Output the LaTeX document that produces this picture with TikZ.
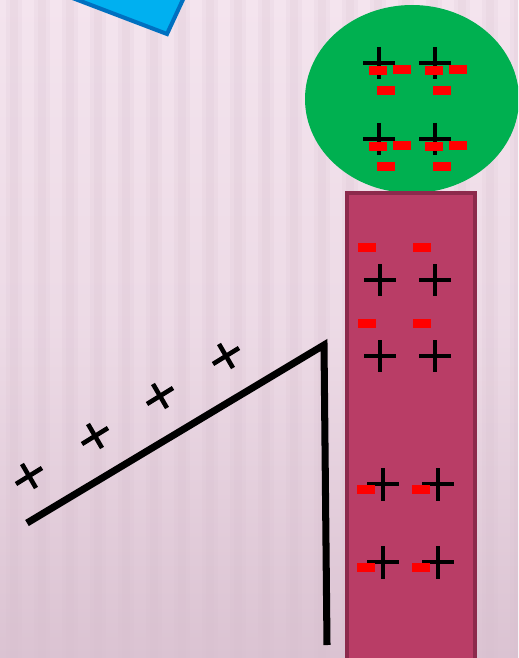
\documentclass[tikz,border=0pt]{standalone}
\definecolor{bgtop}{HTML}{F4E4EE}
\definecolor{bgbot}{HTML}{DBC3D2}
\definecolor{stripe}{HTML}{D6BECD}
\definecolor{skyfill}{HTML}{00B0F0}
\definecolor{skyline}{HTML}{0070C0}
\definecolor{ballgreen}{HTML}{00B050}
\definecolor{rodfill}{HTML}{B93D66}
\definecolor{rodline}{HTML}{8C2A4C}
\definecolor{minusred}{HTML}{FF0000}
\tikzset{
  pluscharge/.style={line width=2.8pt,black},
  minusbar/.style={fill=minusred},
  wire/.style={line width=4pt,black,line join=miter},
  tiltplus/.style={line width=2.6pt,black}
}
\begin{document}
\begin{tikzpicture}[x=0.02cm,y=-0.02cm]
  \useasboundingbox (0,0) rectangle (518,658);
  \clip (0,0) rectangle (518,658);
  % background
  \shade[top color=bgtop,bottom color=bgbot,middle color=bgtop!70!bgbot] (0,0) rectangle (518,658);
  \foreach \x in {14,42,...,518} {
    \fill[stripe,opacity=0.15] (\x-8,0) rectangle (\x+8,658);
    \fill[stripe,opacity=0.15] (\x-4,0) rectangle (\x+4,658);
  }

  % blue plate (corner only)
  \draw[fill=skyfill,draw=skyline,line width=2.3pt,line join=miter]
    (20,-22) -- (167,34) -- (192,-20) -- cycle;

  % green sphere with charges
  \fill[ballgreen] (412,99) ellipse (107 and 94);
  \foreach \y in {0,76} {
    \foreach \x in {0,56} {
      \draw[pluscharge] (363+\x,63+\y) -- (395+\x,63+\y);
      \draw[pluscharge] (379+\x,47+\y) -- (379+\x,79+\y);
      \fill[minusbar] (369+\x,66+\y) rectangle (387+\x,75+\y);
      \fill[minusbar] (393+\x,65+\y) rectangle (411+\x,74+\y);
      \fill[minusbar] (377+\x,86+\y) rectangle (395+\x,95+\y);
    }
  }

  % rod
  \draw[fill=rodfill,draw=rodline,line width=2.3pt] (347,193) rectangle (475,664);
  \foreach \y in {243,319} {
    \foreach \x in {0,55} {
      \fill[minusbar] (358+\x,\y) rectangle (376+\x,\y+9);
      \draw[pluscharge] (364+\x,\y+37) -- (396+\x,\y+37);
      \draw[pluscharge] (380+\x,\y+21) -- (380+\x,\y+53);
    }
  }
  \foreach \y in {484,562} {
    \foreach \x in {0,55} {
      \draw[pluscharge] (367+\x,\y) -- (399+\x,\y);
      \draw[pluscharge] (383+\x,\y-16) -- (383+\x,\y+17);
      \fill[minusbar] (357+\x,\y+1) rectangle (375+\x,\y+10);
    }
  }

  % wire
  \draw[wire] (27,523) -- (324,345) -- (327,645);
  \foreach \x/\y in {29/476,95/436,160/396,226/356} {
    \draw[tiltplus] (\x-13,\y+8) -- (\x+13,\y-8);
    \draw[tiltplus] (\x-7,\y-12) -- (\x+7,\y+12);
  }
\end{tikzpicture}
\end{document}
